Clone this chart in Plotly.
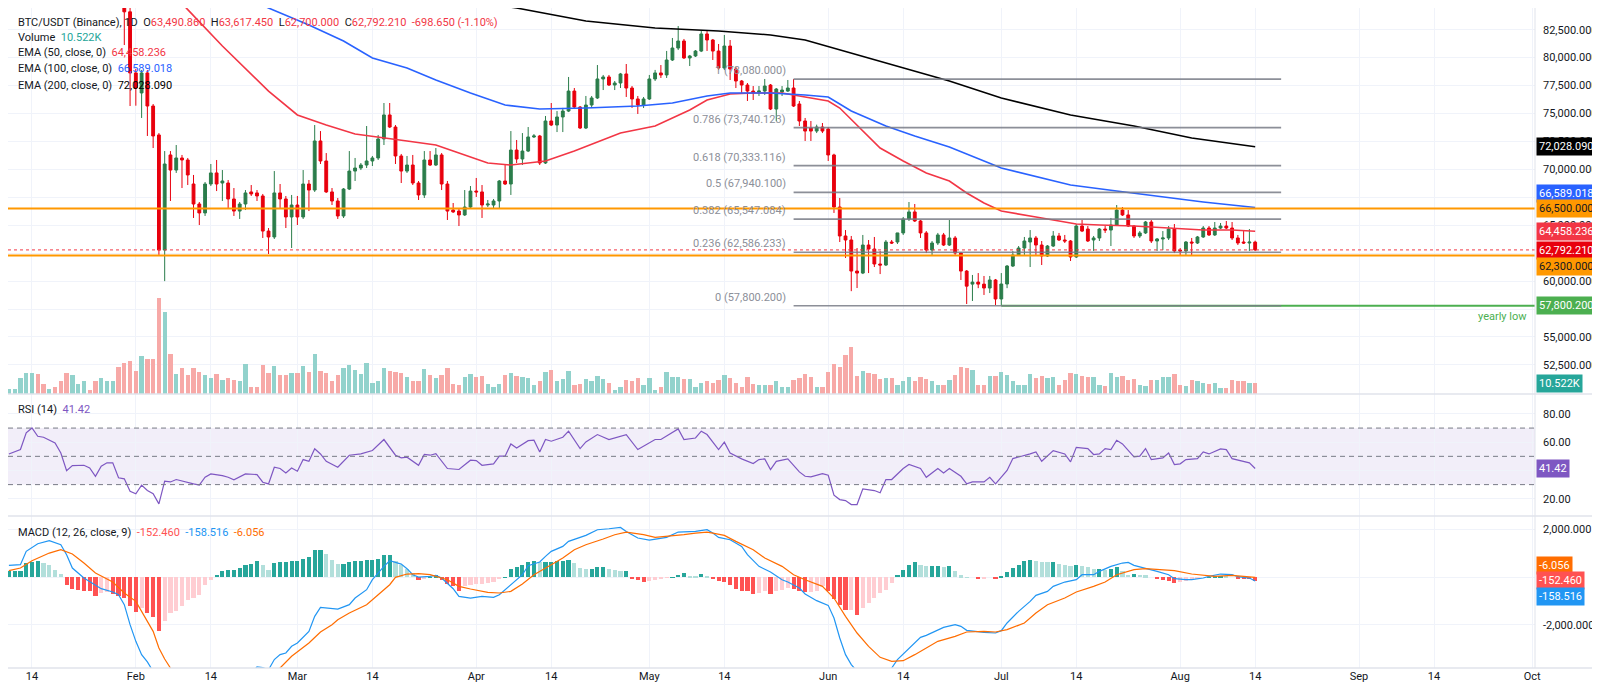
import pandas as pd
import plotly.graph_objects as go
from plotly.subplots import make_subplots

## Daily candles, first bar is 2025-01-10 (prices in USDT)
start = pd.Timestamp("2025-01-10")

opens = [92800, 93500, 94200, 97000, 99000, 99800, 98300, 98100, 98300, 96400,
         94300, 91700, 92600, 92800, 93000, 92600, 90200, 92100, 92900, 93000,
         89100, 84100, 78630, 76840, 78630, 75670, 73080, 62780, 71290, 69940,
         71020, 70840, 68690, 66900, 66100, 68690, 69680, 68780, 68780, 67350,
         66270, 66900, 67980, 67890, 67620, 64480, 63950, 67890, 67350, 65740,
         66810, 65740, 68690, 68150, 72540, 70750, 67980, 67170, 65830, 68240,
         69850, 70120, 70390, 70750, 71020, 72720, 74870, 73790, 71200, 69850,
         70390, 68780, 67710, 70840, 70390, 71290, 68690, 66360, 66270, 65920,
         66630, 68060, 67980, 66810, 66810, 67170, 68960, 68690, 71730, 70930,
         71640, 72900, 72990, 70570, 74330, 73970, 74690, 75220, 77010, 75580,
         73700, 75760, 76390, 78090, 78270, 77550, 77730, 78540, 77280, 76300,
         75760, 76300, 78090, 78630, 78450, 79790, 80860, 81490, 79970, 80150,
         80590, 82120, 81580, 80590, 79070, 81040, 78980, 77910, 77550, 77010,
         76930, 77010, 77550, 75400, 76930, 77010, 77280, 75850, 74330, 73700,
         73430, 73790, 73610, 71290, 66630, 64040, 63680, 60900, 60720, 63230,
         62870, 61530, 61440, 63500, 63500, 64310, 65560, 66190, 65380, 64310,
         62780, 63410, 64130, 63230, 63860, 62510, 60900, 59730, 59910, 59730,
         59380, 60100, 58400, 59740, 61350, 62340, 62960, 63500, 63860, 63230,
         62250, 63140, 64040, 63680, 63590, 62160, 64930, 64660, 63680, 63860,
         64660, 64570, 65020, 66360, 65920, 64930, 64040, 64310, 65290, 63590,
         63770, 63860, 64660, 62780, 62700, 63500, 63410, 63950, 64750, 64130,
         64750, 64930, 64750, 63860, 63500, 63410, 63490.86]
highs = [93900, 94600, 97500, 99500, 100400, 100100, 98700, 98600, 98500, 96700,
         94500, 93000, 93100, 93400, 93200, 92800, 92500, 93200, 93500, 93100,
         89600, 84600, 79000, 78900, 78900, 75850, 73250, 71640, 71640, 72180,
         71290, 71020, 69500, 67080, 68870, 70480, 70840, 69940, 69050, 68330,
         67080, 68150, 68600, 68150, 67800, 64750, 69850, 68690, 67620, 67710,
         67620, 69940, 69050, 73970, 73430, 71460, 68330, 67440, 68330, 71640,
         71020, 70570, 73880, 71200, 73080, 75940, 75940, 73970, 71380, 71200,
         71290, 68960, 71640, 71640, 71910, 71460, 68960, 66990, 66540, 68150,
         68510, 69230, 68600, 67260, 67350, 69050, 70390, 73430, 72630, 73250,
         73790, 73160, 73080, 74780, 75940, 75220, 75500, 78270, 77280, 75670,
         76570, 76570, 79340, 78450, 78450, 77910, 78630, 79430, 77460, 76570,
         76480, 78450, 78900, 79340, 80600, 81760, 82830, 81670, 80240, 80680,
         82380, 82380, 81670, 81220, 82030, 81580, 79160, 78000, 77730, 77460,
         77460, 78090, 77640, 77280, 77460, 78000, 78080, 76120, 74600, 74330,
         74000, 74150, 73790, 71400, 67440, 64570, 64040, 62960, 64130, 63680,
         63950, 62690, 63680, 63680, 63950, 65740, 67080, 66900, 65470, 64480,
         63590, 64310, 64310, 65470, 64040, 62600, 60990, 60550, 60720, 60460,
         60460, 60190, 60720, 61440, 62690, 63140, 63950, 64570, 64040, 63590,
         63230, 64480, 64310, 64130, 63680, 65110, 65470, 64930, 64040, 64750,
         64930, 65650, 66810, 66630, 66360, 65020, 64480, 65380, 65470, 63860,
         64480, 64930, 65110, 62960, 63590, 63860, 64040, 64930, 64930, 65290,
         65200, 65380, 65290, 64130, 64480, 64660, 63617.45]
lows = [92300, 93100, 93900, 96600, 98300, 97700, 97600, 97700, 95900, 93900,
        91200, 91300, 92100, 92300, 92200, 89700, 89900, 91800, 92500, 88600,
        81130, 75670, 75700, 74600, 72990, 71910, 62340, 60000, 67170, 69680,
        68330, 68600, 65650, 65020, 65830, 68510, 68060, 67170, 66540, 65830,
        65560, 66360, 67620, 67170, 63860, 62430, 63770, 66540, 64750, 62960,
        65020, 65560, 66270, 67980, 70480, 67890, 66810, 65560, 65650, 68150,
        68960, 69940, 70120, 70300, 70840, 72180, 73700, 70480, 68780, 69680,
        68600, 67260, 67440, 70300, 70300, 68150, 65470, 66100, 64930, 65830,
        66540, 67530, 65650, 66630, 66540, 66540, 68600, 67710, 70570, 70390,
        71550, 72810, 70390, 70480, 73880, 73340, 73340, 75130, 75400, 73610,
        73610, 75490, 76300, 77100, 77460, 77100, 77280, 76480, 75500, 74960,
        75490, 76210, 77910, 78180, 78180, 79700, 80680, 79880, 79250, 80060,
        80500, 80600, 79790, 78890, 78890, 78000, 77280, 76840, 76120, 76210,
        76570, 76660, 75310, 74330, 76570, 76930, 75580, 73880, 72540, 72540,
        73250, 73250, 70750, 66100, 63500, 62070, 59100, 59380, 60630, 60720,
        61260, 60630, 61350, 63320, 63320, 64130, 65380, 65290, 63860, 62510,
        62250, 63230, 63140, 63140, 62340, 60100, 57950, 58220, 59370, 58760,
        58930, 57860, 57800.2, 59370, 61260, 62250, 62340, 61260, 62250, 61440,
        62160, 63050, 63590, 63410, 61800, 62070, 64390, 63500, 62700, 63590,
        64310, 63140, 64930, 65830, 64840, 63860, 63860, 64220, 63410, 62700,
        62780, 63680, 62510, 62250, 62340, 62250, 63320, 63860, 64040, 64040,
        64660, 64660, 63680, 63230, 63320, 62700, 62700.0]
closes = [93500, 94200, 97000, 99000, 99800, 98300, 98100, 98300, 96400, 94300,
          91700, 92600, 92800, 93000, 92600, 90200, 92100, 92900, 93000, 89100,
          84100, 78630, 77280, 78630, 75670, 72990, 62780, 70480, 69940, 71020,
          70840, 69500, 66900, 66100, 68690, 69680, 68690, 68960, 67350, 66270,
          66900, 67890, 67800, 67620, 64480, 63950, 67890, 67350, 65740, 66810,
          65740, 68690, 68150, 72540, 70750, 67980, 67170, 65830, 68240, 69850,
          70120, 70390, 70750, 71020, 72720, 74870, 73790, 71200, 69850, 70390,
          68780, 67710, 70840, 70390, 71290, 68690, 66270, 66190, 65920, 66630,
          68060, 67980, 66810, 66900, 67170, 68960, 68690, 71730, 70930, 71640,
          72900, 72990, 70570, 74330, 73970, 74690, 75220, 77010, 75580, 73700,
          75760, 76390, 78090, 78270, 77550, 77730, 78540, 77280, 76300, 75760,
          76300, 78090, 78630, 78450, 79790, 80860, 81490, 79970, 80150, 80590,
          82120, 81580, 80590, 79070, 81040, 78980, 77910, 77550, 77010, 76840,
          77010, 77460, 75400, 77190, 77100, 77280, 75670, 74330, 73430, 73430,
          73790, 73430, 71290, 66630, 64040, 63680, 60900, 60720, 63230, 62870,
          61530, 61440, 63500, 63410, 64310, 65560, 66190, 65380, 64310, 62780,
          63410, 64130, 63230, 63860, 62510, 60900, 59550, 59910, 59730, 59380,
          60100, 58400, 59740, 61350, 62340, 62960, 63590, 63860, 63230, 62250,
          63140, 64040, 63680, 63590, 62160, 64930, 64480, 63590, 63860, 64660,
          64570, 65020, 66360, 65920, 64930, 64040, 64310, 65290, 63590, 63770,
          63860, 64660, 62700, 62700, 63500, 63410, 63950, 64750, 64130, 64750,
          64930, 64750, 63860, 63410, 63410, 63490.86, 62792.21]
## Volume in thousands of BTC
volume = [5, 5, 15, 20, 20, 19, 10, 5, 7, 12,
          20, 18, 10, 12, 4, 12, 15, 12, 12.5, 26,
          30, 32, 22, 36, 34, 34, 92, 79, 38, 19,
          25, 18, 25, 21, 18, 15, 19, 13, 15, 13,
          12.5, 29, 7, 7, 28, 20, 27, 18, 18, 20,
          20, 27, 21, 38, 22, 20, 12, 18, 25, 27.5,
          23, 19, 30, 11, 12, 25, 22, 21, 20, 16,
          12, 12.5, 24, 18, 15, 18, 25, 10, 9, 16,
          19, 16, 17, 10, 7, 10, 18, 20, 17, 16,
          15, 8.5, 12, 21, 23, 12.5, 14, 22, 8.5, 10,
          14, 12.5, 17, 14, 11, 4, 7, 13, 12, 15,
          9, 15, 4, 7, 21, 16, 16, 14, 14, 7,
          11, 12, 11, 13, 18, 15, 11, 7, 16, 10,
          9, 9, 9, 12, 7, 7, 13, 15, 19, 16,
          7, 7, 21, 29, 26, 37, 45, 17, 22, 20,
          19, 14, 15, 15, 9, 12, 16, 12.5, 16, 14,
          12.5, 8.5, 9, 13, 18, 26, 25, 23, 8.5, 8.5,
          17, 17, 21, 18, 12, 9, 9, 19, 15, 17,
          15, 16, 9, 13, 20, 19, 17, 16, 16, 8.5,
          7.5, 20, 16, 17, 13, 14, 8.5, 7.5, 13, 13,
          16, 16, 19, 9, 7.5, 13, 12, 11, 10, 11,
          6, 6, 13, 12, 12, 11, 10.522]

## EMA readings (day offset from start, value)
ema50_days = [0, 10, 20, 25, 31, 37, 45, 50, 55, 60, 69, 74, 77, 83, 87, 93, 98, 106, 112,
              118, 121, 125, 129, 134, 138, 142, 144, 147, 151, 155, 159, 163, 166, 169,
              172, 178, 185, 189, 195, 201, 207, 212, 216]
ema50_vals = [93500, 93300, 91000, 87500, 84300, 81040, 77010, 74870, 73970, 73170, 72540,
              72180, 71640, 70570, 70390, 70750, 71640, 73250, 73880, 75310, 76210, 76750,
              76840, 76840, 76480, 76120, 75490, 73970, 71910, 70750, 69680, 68960, 67890,
              66990, 66270, 65740, 65110, 65020, 64930, 64750, 64570, 64570, 64458.236]
ema100_days = [0, 20, 35, 45, 52, 58, 63, 69, 74, 80, 86, 92, 100, 109, 115, 121, 125, 132,
               138, 142, 146, 152, 157, 163, 172, 184, 192, 201, 207, 216]
ema100_vals = [91000, 89500, 86900, 84440, 82920, 81490, 79970, 79070, 78000, 76840, 75760,
               75400, 75490, 75670, 75940, 76570, 76840, 76840, 76660, 76480, 75220, 73880,
               72990, 72000, 70120, 68600, 68060, 67440, 67080, 66589.018]
ema200_days = [0, 30, 60, 88, 100, 112, 123, 132, 138, 149, 163, 172, 184, 195, 205, 216]
ema200_vals = [89800, 88400, 86700, 84440, 83280, 82650, 82380, 82030, 81580, 79970, 77910,
               76390, 74870, 73880, 72810, 72028.090]

## RSI (14) readings
rsi_days = [0, 2, 3, 4, 5, 6, 8, 9, 10, 11, 13, 14, 15, 16, 17, 18, 19, 20, 21, 22, 23, 24,
            25, 26, 27, 28, 29, 30, 32, 33, 34, 35, 37, 38, 39, 41, 43, 44, 45, 46, 47, 48,
            49, 50, 51, 52, 53, 54, 55, 57, 59, 61, 63, 65, 67, 68, 69, 71, 72, 73, 74, 76,
            78, 80, 81, 82, 84, 85, 86, 87, 88, 90, 91, 92, 93, 94, 96, 97, 99, 100, 102,
            104, 105, 107, 109, 112, 113, 116, 117, 119, 120, 121, 123, 124, 125, 127, 129,
            130, 131, 132, 133, 135, 137, 138, 139, 141, 142, 143, 144, 145, 146, 147, 148,
            150, 151, 152, 153, 155, 156, 158, 159, 161, 162, 163, 165, 166, 167, 169, 170,
            171, 173, 174, 177, 178, 179, 181, 183, 184, 185, 187, 188, 189, 190, 191, 192,
            193, 195, 196, 197, 198, 200, 201, 202, 203, 204, 206, 207, 208, 210, 211, 212,
            214, 215, 216]
rsi_vals = [51.7, 54.8, 66.6, 70.1, 64.2, 63.5, 59.5, 52.4, 39.9, 43.5, 43.7, 41.8, 35.9,
            43.0, 45.4, 45.4, 34.8, 34.1, 25.3, 23.5, 29.6, 25.8, 23.5, 16.4, 32.4, 31.9,
            33.6, 32.4, 30.5, 29.6, 35.2, 37.6, 36.4, 35.2, 33.4, 37.6, 37.1, 31.7, 30.5,
            42.3, 41.4, 38.3, 41.8, 39.5, 47.7, 46.5, 55.3, 51.7, 46.5, 42.3, 50.8, 51.7,
            54.1, 61.9, 50.8, 48.9, 49.4, 43.7, 51.3, 50.8, 51.9, 41.4, 40.7, 47.3, 47.0,
            43.7, 44.7, 50.1, 50.1, 58.8, 55.9, 61.1, 61.4, 53.1, 61.9, 60.7, 63.5, 67.8,
            55.5, 60.2, 65.4, 61.9, 63.0, 65.4, 54.8, 61.9, 61.9, 69.4, 61.9, 63.0, 67.8,
            65.4, 54.8, 60.0, 52.4, 48.2, 44.9, 47.7, 48.2, 40.7, 46.5, 48.2, 39.0, 35.9,
            35.5, 37.8, 36.6, 22.5, 19.4, 18.7, 15.9, 15.9, 27.0, 25.8, 24.2, 33.6, 33.6,
            41.4, 44.2, 41.4, 35.2, 41.4, 38.3, 41.4, 35.9, 30.5, 31.9, 31.9, 35.2, 30.5,
            40.0, 48.4, 51.7, 53.1, 46.5, 54.1, 51.7, 46.1, 56.4, 55.5, 51.3, 51.7, 55.5,
            54.8, 61.4, 58.8, 49.6, 50.1, 55.5, 47.7, 48.9, 52.4, 44.2, 44.7, 47.7, 48.4,
            53.1, 51.7, 55.3, 54.8, 48.4, 46.1, 45.4, 41.42]

## MACD (12, 26, 9) readings
macd_days = [0, 2, 3, 5, 7, 9, 10, 11, 13, 16, 18, 19, 20, 21, 22, 23, 24, 25, 26, 27, 28,
             29, 30, 31, 32, 33, 34, 35, 36, 37, 38, 39, 40, 41, 42, 43, 44, 45, 46, 47, 48,
             49, 50, 52, 53, 54, 56, 57, 59, 60, 62, 63, 65, 66, 68, 69, 70, 71, 73, 74, 75,
             76, 77, 78, 80, 82, 84, 85, 87, 89, 90, 92, 93, 94, 96, 97, 100, 102, 104, 106,
             107, 109, 111, 113, 114, 116, 118, 119, 121, 122, 123, 125, 127, 128, 130, 132,
             134, 135, 137, 138, 140, 142, 143, 144, 145, 146, 147, 148, 149, 150, 151, 152,
             153, 154, 156, 158, 159, 161, 162, 164, 165, 166, 168, 169, 171, 172, 173, 175,
             177, 178, 180, 181, 183, 185, 186, 188, 189, 191, 193, 194, 195, 197, 198, 199,
             201, 202, 204, 205, 207, 208, 210, 212, 213, 215, 216]
macd_vals = [500, 528, 1088, 1409, 1535, 1367, 948, 389, -31, -478, -618, -730, -1149, -1988,
             -2687, -3246, -3550, -3950, -5240, -5280, -5300, -5590, -5690, -5640, -5790,
             -5830, -5490, -5300, -5070, -4830, -4720, -4630, -4460, -4190, -4020, -3760,
             -3790, -3880, -3450, -3246, -3176, -2897, -2757, -2268, -1639, -1261, -1289,
             -1331, -1149, -870, -520, -101, 458, 696, 556, 361, 109, 11, 39, 81, -31, -241,
             -478, -800, -870, -800, -842, -730, -311, 109, 486, 640, 878, 1088, 1297, 1507,
             1758, 1996, 2038, 2094, 1926, 1647, 1563, 1619, 1675, 1898, 1898, 1926, 1996,
             1856, 1675, 1577, 1297, 948, 458, 221, -101, -199, -450, -702, -981, -1177,
             -1708, -2547, -3246, -3666, -3940, -3910, -3980, -4000, -4020, -3960, -3806,
             -3456, -2967, -2520, -2436, -2198, -2100, -1988, -2058, -2226, -2296, -2310,
             -2338, -2240, -1918, -1429, -1010, -758, -590, -380, -199, -101, 109, 109, 249,
             458, 598, 626, 500, 389, 319, 249, 109, -59, -101, -101, -31, 39, 137, 109, 25,
             -31, -158.516]
signal_days = [0, 2, 4, 7, 9, 11, 13, 15, 18, 20, 22, 23, 25, 26, 27, 28, 29, 30, 31, 32,
               33, 34, 35, 36, 37, 38, 39, 40, 41, 42, 43, 44, 45, 46, 47, 49, 52, 54, 56,
               57, 59, 62, 64, 66, 67, 69, 71, 73, 76, 78, 80, 83, 85, 87, 89, 91, 94, 96,
               98, 100, 103, 105, 107, 110, 112, 114, 117, 119, 121, 122, 124, 126, 129, 131,
               134, 136, 138, 141, 143, 145, 147, 149, 151, 153, 155, 157, 159, 161, 164,
               166, 169, 171, 173, 176, 178, 180, 183, 185, 188, 190, 192, 195, 197, 200,
               202, 205, 207, 209, 212, 214, 216]
signal_vals = [277, 389, 696, 1017, 1157, 976, 598, 179, -199, -660, -1010, -1429, -2268,
               -2967, -3430, -3806, -4160, -4470, -4700, -4920, -5100, -5180, -5200, -5180,
               -5110, -5030, -4950, -4850, -4720, -4580, -4430, -4290, -4200, -4050, -3806,
               -3316, -2757, -2296, -1988, -1779, -1499, -1149, -730, -311, -3, 137, 151, 109,
               -101, -380, -492, -632, -660, -590, -283, 109, 528, 808, 1157, 1367, 1605,
               1787, 1898, 1787, 1675, 1717, 1787, 1857, 1898, 1856, 1758, 1507, 1157, 808,
               458, 109, -101, -380, -870, -1639, -2338, -2897, -3358, -3526, -3498, -3246,
               -2967, -2687, -2478, -2296, -2268, -2296, -2198, -1918, -1499, -1149, -870,
               -618, -380, -199, 109, 319, 361, 319, 277, 137, 81, 39, 81, 39, -6.056]
hist = [250, 260, 280, 620, 650, 670, 600, 500, 320, 140,
        -310, -480, -520, -560, -590, -800, -650, -620, -690, -800,
        -870, -1220, -1470, -1300, -1500, -1680, -2270, -1850, -1500, -1430,
        -1220, -940, -870, -730, -310, -100, 110, 280, 310, 320,
        390, 530, 560, 670, 500, 320, 600, 640, 650, 670,
        700, 780, 850, 1130, 1160, 980, 740, 560, 560, 640,
        670, 700, 720, 740, 780, 950, 950, 700, 500, 360,
        180, -100, -50, 10, 80, -100, -280, -380, -560, -380,
        -310, -280, -280, -240, -200, -30, 10, 360, 420, 500,
        640, 670, 640, 640, 640, 670, 700, 740, 600, 390,
        360, 360, 420, 430, 350, 320, 280, 280, -30, -100,
        -200, -140, -100, -60, -20, 10, 110, 180, 70, 60,
        140, 70, -30, -140, -200, -310, -480, -560, -590, -700,
        -660, -590, -700, -590, -520, -450, -480, -590, -620, -620,
        -590, -380, -590, -920, -1150, -1360, -1360, -1600, -1290, -1080,
        -870, -660, -520, -240, 110, 320, 500, 630, 500, 460,
        460, 460, 420, 460, 250, 80, 10, 0, -60, -60,
        0, -30, 40, 210, 390, 530, 700, 740, 700, 640,
        630, 640, 560, 500, 460, 500, 470, 420, 360, 360,
        320, 360, 420, 250, 110, 140, 110, 80, 0, -60,
        -100, -170, -240, -200, -140, -100, -30, 0, 10, 40,
        70, 40, 0, -30, -60, -90, -152.46]

## Fibonacci retracement drawn from the May high to the July low
fib_ratios = ["1", "0.786", "0.618", "0.5", "0.382", "0.236", "0"]
fib_levels = [78080.000, 73740.123, 70333.116, 67940.100, 65547.084, 62586.233, 57800.200]
fib_start, fib_end = "2025-05-26", "2025-08-18 12:00"
levels_orange = [66500.0, 62300.0]
yearly_low, yearly_low_date = 57800.200, "2025-07-01"
last_close = 62792.21

tick_dates = ["2025-01-14", "2025-02-01", "2025-02-14", "2025-03-01", "2025-03-14", "2025-04-01",
              "2025-04-14", "2025-05-01", "2025-05-14", "2025-06-01", "2025-06-14", "2025-07-01",
              "2025-07-14", "2025-08-01", "2025-08-14", "2025-09-01", "2025-09-14", "2025-10-01"]
tick_text = ["14", "Feb", "14", "Mar", "14", "Apr", "14", "May", "14", "Jun", "14", "Jul",
             "14", "Aug", "14", "Sep", "14", "Oct"]
## scale labels; the ones sitting under a value tag are left blank (grid line stays)
price_ticks = [52500, 55000, 57500, 60000, 62500, 65000, 67500, 70000, 72500, 75000, 77500, 80000, 82500]
price_labels = ["52,500.000", "55,000.000", "", "60,000.000", "", "65,000.000", "",
                "70,000.000", "72,500.000", "75,000.000", "77,500.000", "80,000.000", "82,500.000"]
rsi_ticks, rsi_labels = [20, 40, 60, 80], ["20.00", "", "60.00", "80.00"]
macd_ticks, macd_labels = [-2000, 0, 2000], ["-2,000.000", "", "2,000.000"]

## colours
UP, DOWN = "#2b7d4b", "#e8000d"
GRID = "#f0f3fa"
SEP = "#e0e3eb"
TXT = "#131722"
FONT = "Roboto, Arial, sans-serif"


def to_dates(days):
    return start + pd.to_timedelta(days, unit="D")


dates = pd.date_range(start, periods=len(closes), freq="D")
up = [c >= o for o, c in zip(opens, closes)]
vol_colors = ["#92d2cc" if u else "#f7a9a7" for u in up]
hist_colors = []
for i, h in enumerate(hist):
    prev = hist[i - 1] if i > 0 else 0
    if h >= 0:
        hist_colors.append("#26a69a" if h >= prev else "#b2dfdb")
    else:
        hist_colors.append("#ff5252" if h < prev else "#ffcdd2")

fig = make_subplots(rows=3, cols=1, shared_xaxes=True, vertical_spacing=0,
                    row_heights=[386, 122, 152],
                    specs=[[{"secondary_y": True}], [{}], [{}]])

day_ms = 86400000
## volume sits under the candles, on its own hidden axis
fig.add_trace(go.Bar(x=dates, y=volume, marker_color=vol_colors, marker_line_width=0,
                     width=0.75 * day_ms), row=1, col=1, secondary_y=False)
fig.add_trace(go.Candlestick(x=dates, open=opens, high=highs, low=lows, close=closes,
                             increasing=dict(line=dict(color=UP, width=1), fillcolor=UP),
                             decreasing=dict(line=dict(color=DOWN, width=1), fillcolor=DOWN),
                             whiskerwidth=0), row=1, col=1, secondary_y=True)
for d, v, col in [(ema50_days, ema50_vals, "#f23645"), (ema100_days, ema100_vals, "#2962ff"),
                  (ema200_days, ema200_vals, "#000000")]:
    fig.add_trace(go.Scatter(x=to_dates(d), y=v, mode="lines", line=dict(color=col, width=1.6)),
                  row=1, col=1, secondary_y=True)

fig.add_trace(go.Scatter(x=to_dates(rsi_days), y=rsi_vals, mode="lines",
                         line=dict(color="#7e57c2", width=1.2)), row=2, col=1)

fig.add_trace(go.Bar(x=dates, y=hist, marker_color=hist_colors, marker_line_width=0,
                     width=0.72 * day_ms), row=3, col=1)
fig.add_trace(go.Scatter(x=to_dates(macd_days), y=macd_vals, mode="lines",
                         line=dict(color="#2196f3", width=1.2)), row=3, col=1)
fig.add_trace(go.Scatter(x=to_dates(signal_days), y=signal_vals, mode="lines",
                         line=dict(color="#ff6d00", width=1.2)), row=3, col=1)

## axes (secondary_y makes make_subplots shrink the x domain, so reset it)
fig.update_xaxes(type="date", domain=[0, 1], range=["2025-01-09 20:15", "2025-10-01 12:00"],
                 tickvals=tick_dates, ticktext=tick_text, showgrid=True, gridcolor=GRID,
                 zeroline=False, showline=False, ticks="", rangeslider_visible=False,
                 tickfont=dict(size=11, color=TXT), automargin=False)
fig.update_yaxes(range=[0, 370], visible=False, showgrid=False, row=1, col=1, secondary_y=False)
fig.update_yaxes(range=[49896, 84443], side="right", tickvals=price_ticks, ticktext=price_labels,
                 showgrid=True, gridcolor=GRID, zeroline=False, ticks="", ticklabelstandoff=7,
                 automargin=False, tickfont=dict(size=11, color=TXT), row=1, col=1, secondary_y=True)
fig.update_yaxes(range=[7.8, 94.1], side="right", tickvals=rsi_ticks, ticktext=rsi_labels,
                 showgrid=True, gridcolor=GRID, zeroline=False, ticks="", ticklabelstandoff=7,
                 automargin=False, tickfont=dict(size=11, color=TXT), row=2, col=1)
fig.update_yaxes(range=[-3806, 2572], side="right", tickvals=macd_ticks, ticktext=macd_labels,
                 showgrid=True, gridcolor=GRID, zeroline=False, ticks="", ticklabelstandoff=7,
                 automargin=False, tickfont=dict(size=11, color=TXT), row=3, col=1)

## RSI band and levels
fig.add_shape(type="rect", xref="paper", x0=0, x1=1, yref="y3", y0=30, y1=70,
              fillcolor="rgba(126,87,194,0.1)", line_width=0, layer="below")
for lvl in [70, 50, 30]:
    fig.add_shape(type="line", xref="paper", x0=0, x1=1, yref="y3", y0=lvl, y1=lvl,
                  line=dict(color="#787b86", width=1, dash="5px,4px"))

## price drawings
for lvl in levels_orange:
    fig.add_shape(type="line", xref="paper", x0=0, x1=1, yref="y2", y0=lvl, y1=lvl,
                  line=dict(color="#ff9800", width=2))
fig.add_shape(type="line", xref="paper", x0=0, x1=1, yref="y2", y0=last_close, y1=last_close,
              line=dict(color="#f23645", width=1, dash="dot"))
fig.add_shape(type="line", xref="x", x0=yearly_low_date, x1="2025-10-10", yref="y2",
              y0=yearly_low, y1=yearly_low, line=dict(color="#4caf50", width=2))
for ratio, lvl in zip(fib_ratios, fib_levels):
    fig.add_shape(type="line", xref="x", x0=fib_start, x1=fib_end, yref="y2", y0=lvl, y1=lvl,
                  line=dict(color="rgba(120,123,134,0.85)", width=1.6))
    fig.add_annotation(xref="x", x=fib_start, xanchor="right", xshift=-6, yref="y2", y=lvl,
                       yanchor="bottom", text=f"{ratio} ({lvl:,.3f})", showarrow=False,
                       font=dict(size=11, color="#8c8f99", family=FONT))
fig.add_annotation(xref="paper", x=1, xanchor="right", xshift=-6, yref="y2", y=yearly_low,
                   yanchor="top", yshift=-2, text="yearly low", showarrow=False,
                   font=dict(size=11, color="#4caf50", family=FONT))

## pane separators
H = 660.0
for py in [386, 508, 660]:
    fig.add_shape(type="line", xref="paper", x0=0, x1=1600 / 1527, yref="paper",
                  y0=1 - py / H, y1=1 - py / H, line=dict(color=SEP, width=1.5))
fig.add_shape(type="line", xref="paper", x0=1, x1=1, yref="paper", y0=0, y1=1,
              line=dict(color=SEP, width=1))


def span(txt, col):
    return f'<span style="color:{col}">{txt}</span>'


sp = "&nbsp;&nbsp;"
red = "#f23645"
legend_lines = [
    (14, span("BTC/USDT (Binance), 1D", TXT) + sp + span("O", TXT) + span("63,490.860", red) + sp
     + span("H", TXT) + span("63,617.450", red) + sp + span("L", TXT) + span("62,700.000", red) + sp
     + span("C", TXT) + span("62,792.210", red) + sp + span("-698.650 (-1.10%)", red)),
    (30, span("Volume", TXT) + sp + span("10.522K", "#26a69a")),
    (45, span("EMA (50, close, 0)", TXT) + sp + span("64,458.236", "#f23645")),
    (61, span("EMA (100, close, 0)", TXT) + sp + span("66,589.018", "#2962ff")),
    (77, span("EMA (200, close, 0)", TXT) + sp + span("72,028.090", "#000000")),
    (401, span("RSI (14)", TXT) + sp + span("41.42", "#7e57c2")),
    (524, span("MACD (12, 26, close, 9)", TXT) + sp + span("-152.460", "#ff5252") + sp
     + span("-158.516", "#2196f3") + sp + span("-6.056", "#ff6d00")),
]
for py, txt in legend_lines:
    fig.add_annotation(xref="paper", x=8 / 1527, xanchor="left", yref="paper", y=1 - py / H,
                       yanchor="middle", text=txt, showarrow=False,
                       font=dict(size=11, family=FONT))

## value tags on the right scale
tags = [
    ("72,028.090", "y2", 72028.09, "#000000", "white", 0),
    ("66,589.018", "y2", 66589.018, "#2962ff", "white", 14),
    ("66,500.000", "y2", 66500.0, "#ff9800", TXT, 0),
    ("64,458.236", "y2", 64458.236, "#f23645", "white", 0),
    ("62,792.210", "y2", 62792.21, "#e8000d", "white", -1),
    ("62,300.000", "y2", 62300.0, "#ff9800", TXT, -11),
    ("57,800.200", "y2", 57800.2, "#4caf50", "white", 0),
    ("10.522K", "y", 10.522, "#26a69a", "white", 0),
    ("41.42", "y3", 41.42, "#7e57c2", "white", 0),
    ("-6.056", "y4", -6.056, "#ff6d00", "white", 12),
    ("-152.460", "y4", -152.46, "#ff5252", "white", 0),
    ("-158.516", "y4", -158.516, "#2196f3", "white", -15),
]
for txt, yref, yv, bg, fg, shift in tags:
    fig.add_annotation(xref="paper", x=1, xanchor="left", xshift=1, yref=yref, y=yv,
                       yanchor="middle", yshift=shift, text=txt, showarrow=False,
                       bgcolor=bg, borderpad=2, font=dict(size=11, color=fg, family=FONT))

fig.update_layout(width=1600, height=685, margin=dict(l=0, r=73, t=0, b=25, autoexpand=False),
                  paper_bgcolor="white", plot_bgcolor="white", showlegend=False,
                  hovermode=False, bargap=0,
                  font=dict(family=FONT, size=11, color=TXT))

fig.write_html("out.html")
